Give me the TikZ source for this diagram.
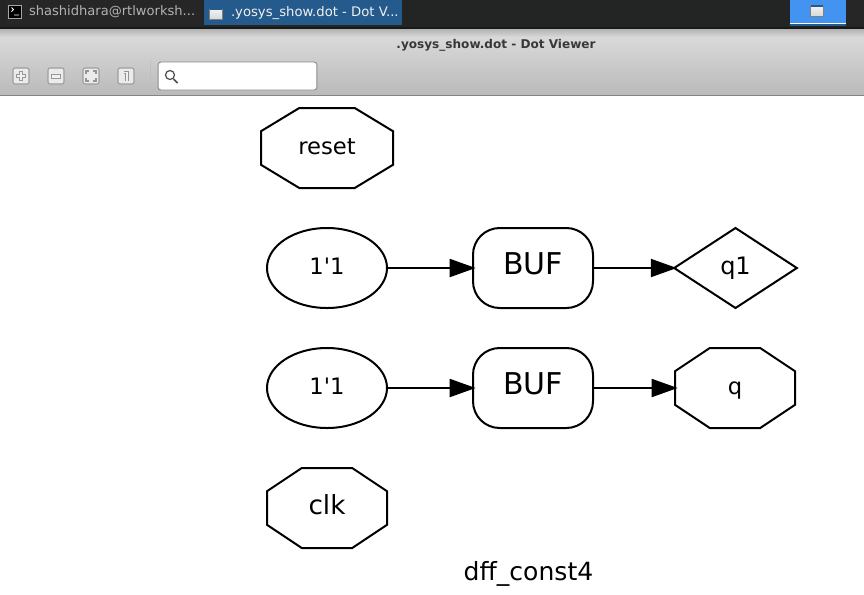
\documentclass[tikz,border=0pt]{standalone}
\usepackage{fontspec}
\setmainfont[Ligatures=TeXOff]{DejaVu Sans}
\usepackage{xcolor}
\usetikzlibrary{shapes.geometric}
\usetikzlibrary{arrows.meta}
\usetikzlibrary{calc}
\definecolor{barDark}{HTML}{232524}
\definecolor{tabBlue}{HTML}{245A8C}
\definecolor{deskBlue}{HTML}{4394F0}
\newcommand{\portoct}[1]{%
	\draw ($(#1.north west)!.29!(#1.north east)$)
		-- ($(#1.north east)!.29!(#1.north west)$)
		-- ($(#1.north east)!.29!(#1.south east)$)
		-- ($(#1.south east)!.29!(#1.north east)$)
		-- ($(#1.south east)!.29!(#1.south west)$)
		-- ($(#1.south west)!.29!(#1.south east)$)
		-- ($(#1.south west)!.29!(#1.north west)$)
		-- ($(#1.north west)!.29!(#1.south west)$)
		-- cycle;}
\tikzset{
	every node/.style={inner sep=0pt,outer sep=0pt},
	fsize/.style={font=\fontsize{#1}{#1}\selectfont,
		text height=\the\dimexpr #1pt*76/100\relax,text depth=\the\dimexpr #1pt*24/100\relax},
	graph label/.style={fsize=#1,text height=\the\dimexpr #1pt*24/100+9pt\relax},
	one bit/.style={ellipse,draw,graph label=17,minimum width=90pt,minimum height=60pt},
	buf box/.style={rectangle,draw,rounded corners=20pt,graph label=22.5,minimum width=90pt,minimum height=60pt},
	port diamond/.style={diamond,draw,shape aspect=1.54,graph label=18,minimum width=92pt,minimum height=60pt},
	port oct/.style={graph label=#1,minimum height=60pt},
	wire/.style={-{Triangle[length=19.5pt,width=13.5pt]},shorten >=-2pt},
	tool btn/.style={rectangle,draw=black!38,fill=black!8,rounded corners=1.5pt,line width=.8pt,minimum width=12pt,minimum height=12pt},
	win icon/.style={rectangle,draw=black!50,line width=.7pt,top color=black!5,bottom color=black!15,minimum width=9.5pt,minimum height=7.5pt},
	tab text/.style={fsize=#1,anchor=west}
}
\begin{document}
\begin{tikzpicture}[x=.75pt,y=-.75pt,line width=1.5pt,line join=miter]
	\useasboundingbox (0,0) rectangle (864,594);
	\fill[white] (0,0) rectangle (864,594);
	% window chrome
	\fill[barDark] (0,0) rectangle (864,27);
	\fill[black!90] (0,27) rectangle (864,29);
	\fill[black!85] (5,0) rectangle (202,25);
	\fill[tabBlue] (204,0) rectangle (402,25);
	\fill[black!85] (846,0) rectangle (864,25);
	\shade[top color=black!30,bottom color=black!15] (0,29) rectangle (864,37);
	\shade[top color=black!15,bottom color=black!27] (0,37) rectangle (864,95);
	\fill[black!48] (0,95) rectangle (864,96);
	\fill[deskBlue] (790,0) rectangle (846,23);
	\fill[white] (790,23) rectangle (846,24);
	\fill[tabBlue] (790,24) rectangle (846,26);
	\node[win icon] (deskicon) at (817,11) {};
	\draw[tabBlue,line width=.9pt] (deskicon.north west) -- (deskicon.north east);
	\node[rectangle,draw=black!35,line width=.7pt,minimum width=9.5pt,minimum height=9.5pt,fill=black] (termicon) at (15,12) {};
	\draw[white,line width=.6pt] (11.5,7.5) -- (13.5,9.5) -- (11.5,11.5) (14,15) -- (19,15);
	\node[tab text=9.8,text=black!30] (termtab) at (29,12) {shashidhara@rtlworksh...};
	\node[win icon] (winicon) at (216,14) {};
	\draw[tabBlue,line width=.9pt] (winicon.north west) -- (winicon.north east);
	\node[tab text=9.9,text=black!6] (wintab) at (231,13) {.yosys\_show.dot - Dot V...};
	\node[fsize=9.05,font=\bfseries\fontsize{9.05}{9.05}\selectfont,text=black!78] (title) at (496,45) {.yosys\_show.dot - Dot Viewer};
	\node[tool btn] (zoomin) at (21,76) {};
	\node[tool btn] (zoomout) at (56,76) {};
	\node[tool btn] (zoomfit) at (91,76) {};
	\node[tool btn] (zoomone) at (126,76) {};
	\draw[black!40,line width=3.4pt] (16,76) -- (26,76) (21,71) -- (21,81);
	\draw[black!6,line width=1.6pt] (17,76) -- (25,76) (21,72) -- (21,80);
	\draw[black!40,line width=4.4pt] (51,76.5) -- (61,76.5);
	\draw[black!6,line width=2.6pt] (52,76.5) -- (60,76.5);
	\draw[black!42,line width=.8pt] (86,74) -- (86,71) -- (89,71) (93,71) -- (96,71) -- (96,74) (96,78) -- (96,81) -- (93,81) (89,81) -- (86,81) -- (86,78);
	\draw[black!42,line width=2.6pt] (123.5,72.5) -- (127,72.5) -- (127,81);
	\draw[black!6,line width=1pt] (123.5,72.5) -- (127,72.5) -- (127,81);
	\draw[black!25,line width=.7pt] (150.5,61) -- (150.5,91);
	\node[rectangle,draw=black!45,fill=white,line width=.7pt,rounded corners=2pt,minimum width=119pt,minimum height=21pt] (search) at (237.5,76) {};
	\draw[black!70,line width=.9pt] (170,75) circle (4.5);
	\draw[black!70,line width=1.2pt] (173.5,79) -- (177.5,83);
	% graph
	\node[port oct=17,minimum width=99pt] (reset) at (327,148) {reset};
	\node[one bit] (one1) at (327,268) {1'1};
	\node[buf box] (buf1) at (533,268) {BUF};
	\node[port diamond] (q1) at (735.5,268) {q1};
	\node[one bit] (one2) at (327,388) {1'1};
	\node[buf box] (buf2) at (533,388) {BUF};
	\node[port oct=17,minimum width=90pt] (q) at (735,388) {q};
	\node[port oct=19.7,minimum width=90pt] (clk) at (327,508) {clk};
	\node[graph label=18.8] (caption) at (528.5,574) {dff\_const4};
	\portoct{reset}
	\portoct{q}
	\portoct{clk}
	\draw[wire] (one1) -- (buf1);
	\draw[wire] (buf1) -- (q1);
	\draw[wire] (one2) -- (buf2);
	\draw[wire] (buf2) -- (q);
\end{tikzpicture}
\end{document}
